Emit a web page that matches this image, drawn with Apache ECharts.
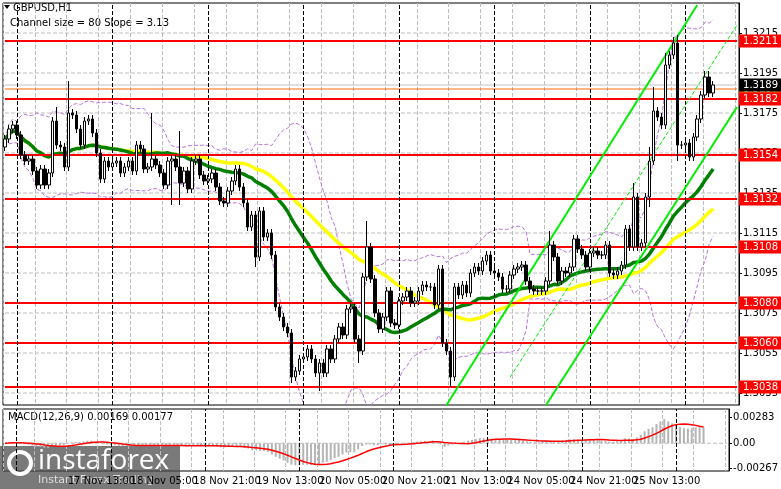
<!DOCTYPE html>
<html><head><meta charset="utf-8">
<script src="https://cdn.jsdelivr.net/npm/echarts@6/dist/echarts.min.js"></script>
<style>html,body{margin:0;padding:0;background:#fff}#c{width:781px;height:489px}</style>
</head><body><div id="c"></div>
<script>
// closes (hourly bars from 14 Nov 21:00)
const closes = [
1.3162,1.3167,1.3169,1.3164,1.3154,1.3151,1.3152,1.3146,1.3139,1.3147,
1.3139,1.3145,1.3171,1.3159,1.3158,1.3148,1.3175,1.3174,1.3167,1.3159,
1.3171,1.3172,1.3165,1.3155,1.3142,1.3151,1.3148,1.3150,1.3151,1.3145,
1.3148,1.3151,1.3146,1.3159,1.3157,1.3147,1.3148,1.3152,1.3149,1.3145,
1.3139,1.3151,1.3152,1.3148,1.3140,1.3146,1.3137,1.3151,1.3152,1.3144,
1.3141,1.3142,1.3145,1.3138,1.3131,1.3130,1.3136,1.3141,1.3147,1.3138,
1.3130,1.3118,1.3124,1.3103,1.3126,1.3113,1.3115,1.3104,1.3078,1.3073,
1.3068,1.3065,1.3043,1.3046,1.3052,1.3053,1.3057,1.3052,1.3045,1.3050,
1.3045,1.3057,1.3052,1.3062,1.3068,1.3064,1.3077,1.3078,1.3062,1.3056,
1.3093,1.3108,1.3092,1.3075,1.3067,1.3073,1.3086,1.3070,1.3069,1.3081,
1.3083,1.3086,1.3080,1.3081,1.3086,1.3089,1.3088,1.3088,1.3079,1.3097,
1.3060,1.3056,1.3043,1.3088,1.3084,1.3089,1.3085,1.3095,1.3098,1.3096,
1.3101,1.3104,1.3096,1.3095,1.3093,1.3087,1.3087,1.3094,1.3097,1.3098,
1.3099,1.3091,1.3087,1.3086,1.3086,1.3086,1.3091,1.3109,1.3103,1.3091,
1.3096,1.3095,1.3098,1.3112,1.3107,1.3104,1.3098,1.3105,1.3106,1.3104,
1.3104,1.3109,1.3095,1.3094,1.3096,1.3099,1.3117,1.3108,1.3133,1.3108,
1.3110,1.3133,1.3151,1.3176,1.3173,1.3169,1.3199,1.3204,1.3210,1.3159,
1.3159,1.3160,1.3153,1.3163,1.3172,1.3184,1.3193,1.3185,1.3189];
const firstOpen = 1.3158;
// notable wick extremes [index, high, low]
const wicks = [[13,1.3178,null],[16,1.3191,null],[37,1.3175,null],[42,null,1.3129],[44,1.3166,1.3129],
[63,null,1.3098],[72,null,1.3040],[79,null,1.3036],[89,null,1.3050],[91,1.3121,null],[112,null,1.3038],
[137,1.3116,null],[158,1.3140,null],[162,1.3158,1.3128],[163,1.3188,null],[166,1.3205,null],
[168,1.3213,null],[169,1.3214,1.3151],[177,1.3196,null],[176,1.3196,null]];
const levels = [1.3211,1.3182,1.3154,1.3132,1.3108,1.3080,1.3060,1.3038];
const priceTicks = [1.3035,1.3055,1.3075,1.3095,1.3115,1.3135,1.3155,1.3175,1.3195,1.3215];
const macdTicks = [-0.00267,0,0.00283];
const totalBars = 185;

const months=['Jan','Feb','Mar','Apr','May','Jun','Jul','Aug','Sep','Oct','Nov','Dec'];
const cats=[]; let t=Date.UTC(2025,10,14,21);
while(cats.length<totalBars){const d=new Date(t);const wd=d.getUTCDay();
 if(wd!==0&&wd!==6){const hh=String(d.getUTCHours()).padStart(2,'0');
  cats.push(cats.length===0?(d.getUTCDate()+' '+months[d.getUTCMonth()]+' 2025'):(d.getUTCDate()+' '+months[d.getUTCMonth()]+' '+hh+':00'));}
 t+=3600000;}
const hiMap={},loMap={};wicks.forEach(w=>{if(w[1])hiMap[w[0]]=w[1];if(w[2])loMap[w[0]]=w[2];});
const candles=closes.map((c,i)=>{const o=i?closes[i-1]:firstOpen;
 const h=hiMap[i]||Math.max(o,c)+0.0002, l=loMap[i]||Math.min(o,c)-0.0002;return [o,c,l,h];});
function sma(arr,p){return arr.map((v,i)=>{const s=arr.slice(Math.max(0,i-p+1),i+1);return s.reduce((a,b)=>a+b,0)/s.length;});}
const ma30=sma(closes,30), ma50=sma(closes,50), bb=sma(closes,20);
const bbU=[],bbL=[];closes.forEach((v,i)=>{const s=closes.slice(Math.max(0,i-19),i+1);const m=bb[i];
 const sd=Math.sqrt(s.reduce((a,b)=>a+(b-m)*(b-m),0)/s.length);bbU.push(m+2*sd);bbL.push(m-2*sd);});
function ema(arr,p){const k=2/(p+1);const r=[];arr.forEach((v,i)=>r.push(i?v*k+r[i-1]*(1-k):v));return r;}
const e12=ema(closes,12),e26=ema(closes,26);const macd=closes.map((v,i)=>e12[i]-e26[i]);const sig=sma(macd,9);

const F='DejaVu Sans';
const dayLines=[];for(let i=3;i<totalBars;i+=24)dayLines.push({xAxis:i});
function hline(v,color,width,type,labelBg,xi,z){
 const s={type:'line',data:cats.map(()=>v),xAxisIndex:xi||0,yAxisIndex:xi||0,symbol:'none',silent:true,z:z||1,
  lineStyle:{color:color,width:width,type:type}};
 if(labelBg){s.endLabel={show:true,formatter:v.toFixed(4),color:'#fff',backgroundColor:labelBg,padding:[2,4,1,4],fontSize:10,fontFamily:F,distance:2};}
 return s;}
const series=[];
priceTicks.forEach(v=>series.push(hline(v,'#bdbdbd',1,'dashed',null,0,0)));
series.push(hline(0,'#bdbdbd',1,'dashed',null,1,0));
series.push({type:'line',data:[],xAxisIndex:0,yAxisIndex:0,markLine:{symbol:'none',silent:true,label:{show:false},lineStyle:{color:'#000',type:'dashed',width:1},data:dayLines}});
series.push({type:'line',data:[],xAxisIndex:1,yAxisIndex:1,markLine:{symbol:'none',silent:true,label:{show:false},lineStyle:{color:'#000',type:'dashed',width:1},data:dayLines}});
series.push(
  {type:'line',data:bbU,symbol:'none',z:3,lineStyle:{color:'#b870e0',width:1,type:'dashed'}},
  {type:'line',data:bbL,symbol:'none',z:3,lineStyle:{color:'#b870e0',width:1,type:'dashed'}},
  {type:'line',data:ma50,symbol:'none',z:3,lineStyle:{color:'#ffff00',width:3.5}},
  {type:'line',data:ma30,symbol:'none',z:3,lineStyle:{color:'#008000',width:3.5}});
series.push(hline(1.3187,'#ff6600',1,'solid','#ff6600',0,4));
series.push(hline(1.3189,'#c0c0c0',1,'solid','#000',0,4));
levels.forEach(v=>series.push(hline(v,'#ff0000',2,'solid','#ff0000',0,4)));
series.push({type:'candlestick',data:candles,barWidth:3,z:5,
   itemStyle:{color:'#fff',color0:'#000',borderColor:'#000',borderColor0:'#000',borderWidth:1}});
series.push({type:'line',data:[],z:6,markLine:{symbol:'none',silent:true,label:{show:false},data:[
 [{coord:[111,1.3029],lineStyle:{color:'#00ee00',width:2,type:'solid'}},{coord:[174,1.3229]}],
 [{coord:[136,1.3029],lineStyle:{color:'#00ee00',width:2,type:'solid'}},{coord:[184,1.3178]}],
 [{coord:[127,1.3043],lineStyle:{color:'#00ee00',width:1,type:'dashed'}},{coord:[184,1.3219]}]]}});
series.push({type:'bar',data:macd,xAxisIndex:1,yAxisIndex:1,barWidth:2,itemStyle:{color:'#b4b4b4'}},
  {type:'line',data:sig,xAxisIndex:1,yAxisIndex:1,symbol:'none',lineStyle:{color:'#ff0000',width:1.5}});

const chart=echarts.init(document.getElementById('c'));
chart.setOption({animation:false,
 grid:[{left:3,right:41,top:3,height:402,show:true,borderColor:'#000',borderWidth:1},
       {left:3,right:41,top:409,height:62,show:true,borderColor:'#000',borderWidth:1}],
 xAxis:[{type:'category',data:cats,gridIndex:0,axisLine:{show:false},axisTick:{show:false},axisLabel:{show:false},
   splitLine:{show:true,interval:(i)=>i%8===0,lineStyle:{color:'#bdbdbd',type:'dashed'}}},
  {type:'category',data:cats,gridIndex:1,axisLine:{show:false},axisTick:{show:false},
   axisLabel:{interval:(i)=>i%16===0,hideOverlap:false,align:'left',color:'#000',fontFamily:F,fontSize:10,margin:5},
   splitLine:{show:true,interval:(i)=>i%8===0,lineStyle:{color:'#bdbdbd',type:'dashed'}}}],
 yAxis:[{type:'value',gridIndex:0,position:'right',min:1.3029,max:1.3230,splitLine:{show:false},
   axisLine:{show:true,lineStyle:{color:'#000'}},
   axisTick:{show:true,customValues:priceTicks,length:3,lineStyle:{color:'#000'}},
   axisLabel:{customValues:priceTicks,formatter:v=>v.toFixed(4),color:'#000',fontFamily:F,fontSize:10,margin:4}},
  {type:'value',gridIndex:1,position:'right',min:-0.0030,max:0.0037,splitLine:{show:false},
   axisLine:{show:true,lineStyle:{color:'#000'}},
   axisTick:{show:true,customValues:macdTicks,length:3,lineStyle:{color:'#000'}},
   axisLabel:{customValues:macdTicks,formatter:v=>v===0?'0.00':v.toFixed(5),color:'#000',fontFamily:F,fontSize:10,margin:4}}],
 series:series,
 graphic:[
  {type:'polygon',shape:{points:[[4,5],[10,5],[7,9]]},style:{fill:'#000'}},
  {type:'text',left:13,top:3,style:{text:'GBPUSD,H1',font:'10px DejaVu Sans',fill:'#000'}},
  {type:'text',left:10,top:18,style:{text:'Channel size = 80 Slope = 3.13',font:'10px DejaVu Sans',fill:'#000'}},
  {type:'text',left:8,top:412,style:{text:'MACD(12,26,9) 0.00169 0.00177',font:'10px DejaVu Sans',fill:'#000'}},
  {type:'rect',shape:{x:0,y:446,width:180,height:43},style:{fill:'rgba(70,70,70,0.72)'}},
  {type:'circle',shape:{cx:20,cy:463,r:11},style:{fill:'none',stroke:'#fff',lineWidth:4}},
  {type:'text',left:38,top:447,style:{text:'instaforex',font:'28px Open Sans',fill:'#fff'}},
  {type:'text',left:38,top:475,style:{text:'Instant Forex Trading',font:'11px DejaVu Sans',fill:'#ddd'}}
 ]});
</script></body></html>
